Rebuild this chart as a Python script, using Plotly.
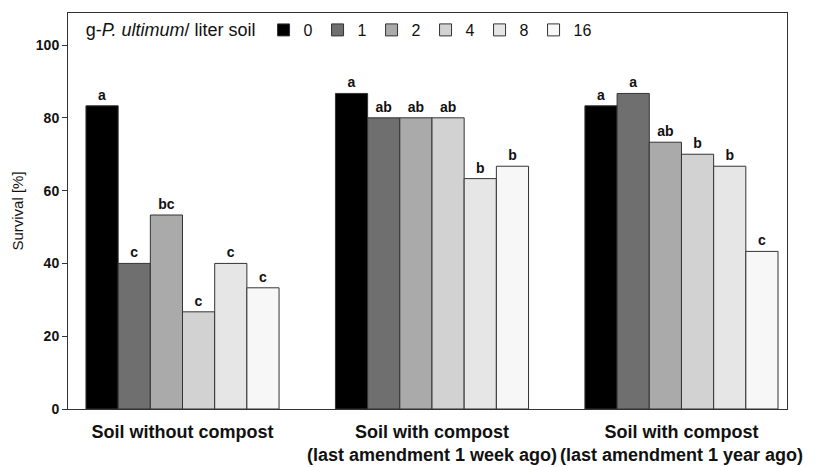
import plotly.graph_objects as go

categories = ["Soil without compost",
              "Soil with compost<br>(last amendment 1 week ago)",
              "Soil with compost<br>(last amendment 1 year ago)"]
doses = ["0", "1", "2", "4", "8", "16"]
survival = {
    "0":  [83.3, 86.7, 83.3],
    "1":  [40.0, 80.0, 86.7],
    "2":  [53.3, 80.0, 73.3],
    "4":  [26.7, 80.0, 70.0],
    "8":  [40.0, 63.3, 66.7],
    "16": [33.3, 66.7, 43.3],
}
letters = {
    "0":  ["a", "a", "a"],
    "1":  ["c", "ab", "a"],
    "2":  ["bc", "ab", "ab"],
    "4":  ["c", "ab", "b"],
    "8":  ["c", "b", "b"],
    "16": ["c", "b", "c"],
}
colors = ["#000000", "#6f6f6f", "#aaaaaa", "#d2d2d2", "#e6e6e6", "#f7f7f7"]

fig = go.Figure()
for d, c in zip(doses, colors):
    fig.add_trace(go.Bar(
        x=categories, y=survival[d], name=d,
        marker=dict(color=c, line=dict(color="#333333", width=1)),
        text=letters[d], textposition="outside",
        textfont=dict(family="Liberation Sans", size=14, color="#111111", weight="bold"),
        cliponaxis=False,
    ))

fig.update_layout(
    width=825, height=467,
    paper_bgcolor="white", plot_bgcolor="white",
    margin=dict(l=60, r=46, t=5, b=66),
    barmode="group", bargap=0.226, bargroupgap=0,
    font=dict(family="Liberation Sans", color="#111111"),
    showlegend=True,
    legend=dict(
        orientation="h", x=0.022, y=1.0, xanchor="left", yanchor="top",
        title=dict(text="g-<i>P. ultimum</i>/ liter soil", font=dict(size=18), side="left"),
        font=dict(size=16),
        itemwidth=30, bgcolor="rgba(0,0,0,0)",
        traceorder="normal",
    ),
    xaxis=dict(
        range=[-0.459, 2.423], automargin=False,
        showline=True, linecolor="#333333", linewidth=1, mirror=True,
        ticks="", tickfont=dict(size=18, weight="bold"), ticklabelstandoff=6,
    ),
    yaxis=dict(
        range=[0, 108.8], tickvals=[0, 20, 40, 60, 80, 100], automargin=False,
        showline=True, linecolor="#333333", linewidth=1, mirror=True,
        ticks="outside", ticklen=5, tickcolor="#333333",
        showgrid=False, zeroline=False,
        tickfont=dict(size=14, weight="bold"),
        title=dict(text="Survival [%]", font=dict(size=15), standoff=8),
    ),
)

fig.write_html("out.html")
